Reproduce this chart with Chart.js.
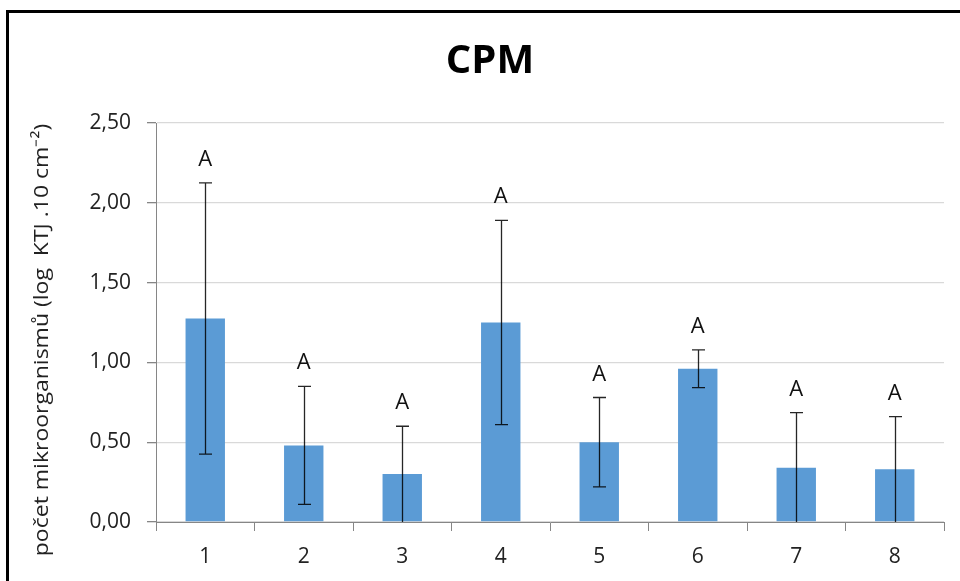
<!DOCTYPE html>
<html>
<head>
<meta charset="utf-8">
<script src="https://cdn.jsdelivr.net/npm/chart.js@4/dist/chart.umd.min.js"></script>
<style>
    html, body { margin: 0; padding: 0; background: #fff; }
    #frame {
        position: absolute; left: 6px; top: 10px; width: 960px; height: 600px;
        border-left: 3px solid #000; border-top: 3px solid #000;
    }
    #wrap { position: absolute; left: 0; top: 0; width: 960px; height: 581px; }
</style>
</head>
<body>
<div id="frame"></div>
<div id="wrap"><canvas id="cpmChart" width="960" height="581"></canvas></div>
<script>
// data
const categories = ["1", "2", "3", "4", "5", "6", "7", "8"];
const means = [1.275, 0.48, 0.30, 1.25, 0.50, 0.96, 0.34, 0.33];
const sds = [0.85, 0.37, 0.30, 0.64, 0.28, 0.118, 0.345, 0.33];
const letters = ["A", "A", "A", "A", "A", "A", "A", "A"];
const yTicks = [0, 0.5, 1, 1.5, 2, 2.5];
const yTitle = "počet mikroorganismů (log  KTJ .10 cm⁻²)";

const FONT = "'Open Sans', sans-serif";

// error bars + letters above them
const errorBars = {
    id: "errorBars",
    afterDatasetsDraw(chart) {
        const ctx = chart.ctx;
        const y = chart.scales.y;
        const meta = chart.getDatasetMeta(0);
        ctx.save();
        meta.data.forEach((bar, i) => {
            const hi = means[i] + sds[i];
            const lo = Math.max(means[i] - sds[i], 0);
            const yHi = y.getPixelForValue(hi);
            const yLo = y.getPixelForValue(lo);
            const x = Math.round(bar.x) + 0.5;
            ctx.strokeStyle = "rgba(0,0,0,0.85)";
            ctx.lineWidth = 1.3;
            ctx.beginPath();
            ctx.moveTo(x, yHi);
            ctx.lineTo(x, yLo);
            ctx.moveTo(x - 6.5, yHi);
            ctx.lineTo(x + 6.5, yHi);
            if (lo > 0.005) {
                ctx.moveTo(x - 6.5, yLo);
                ctx.lineTo(x + 6.5, yLo);
            }
            ctx.stroke();
            ctx.fillStyle = "#111";
            ctx.font = "22px " + FONT;
            ctx.textAlign = "center";
            ctx.textBaseline = "alphabetic";
            ctx.fillText(letters[i], bar.x, yHi - 17);
        });
        ctx.restore();
    },
};

// rotated y title, centred like in the original
const yTitlePlugin = {
    id: "yTitlePlugin",
    afterDraw(chart) {
        const ctx = chart.ctx;
        ctx.save();
        ctx.translate(42, 340);
        ctx.rotate(-Math.PI / 2);
        ctx.scale(1.15, 1);
        ctx.fillStyle = "#222";
        ctx.font = "20px " + FONT;
        ctx.textAlign = "center";
        ctx.textBaseline = "middle";
        ctx.fillText(yTitle, 0, 0);
        ctx.restore();
    },
};

document.addEventListener("DOMContentLoaded", () => {
    const canvas = document.getElementById("cpmChart");
    new Chart(canvas.getContext("2d"), {
        type: "bar",
        data: {
            labels: categories,
            datasets: [
                {
                    label: "CPM",
                    data: means,
                    backgroundColor: "#5B9BD5",
                    borderWidth: 0,
                    barPercentage: 0.4,
                    categoryPercentage: 1,
                },
            ],
        },
        plugins: [errorBars, yTitlePlugin],
        options: {
            responsive: false,
            animation: false,
            layout: { padding: { left: 36, right: 16, top: 0, bottom: 0 } },
            plugins: {
                legend: { display: false },
                tooltip: { enabled: false },
                title: {
                    display: true,
                    text: "CPM",
                    color: "#000",
                    font: { family: FONT, size: 40, weight: "bold" },
                    padding: { top: 38, bottom: 37 },
                },
            },
            scales: {
                x: {
                    grid: {
                        offset: true,
                        drawOnChartArea: false,
                        drawTicks: true,
                        tickLength: 9,
                        color: "#868686",
                        tickColor: "#868686",
                    },
                    border: { color: "#868686", width: 1 },
                    ticks: {
                        color: "#222",
                        font: { family: FONT, size: 21 },
                        padding: 13,
                    },
                    afterFit(scale) { scale.height = 59; },
                },
                y: {
                    min: 0,
                    max: 2.5,
                    afterBuildTicks(scale) {
                        scale.ticks = yTicks.map((v) => ({ value: v }));
                    },
                    grid: {
                        color: "#d9d9d9",
                        tickColor: "#868686",
                        tickLength: 9,
                        lineWidth: 1.3,
                    },
                    border: { color: "#868686", width: 1 },
                    ticks: {
                        color: "#222",
                        font: { family: FONT, size: 21 },
                        padding: 16,
                        callback: (v) => v.toFixed(2).replace(".", ","),
                    },
                    afterFit(scale) { scale.width = 120; },
                },
            },
        },
    });
});
</script>
</body>
</html>
